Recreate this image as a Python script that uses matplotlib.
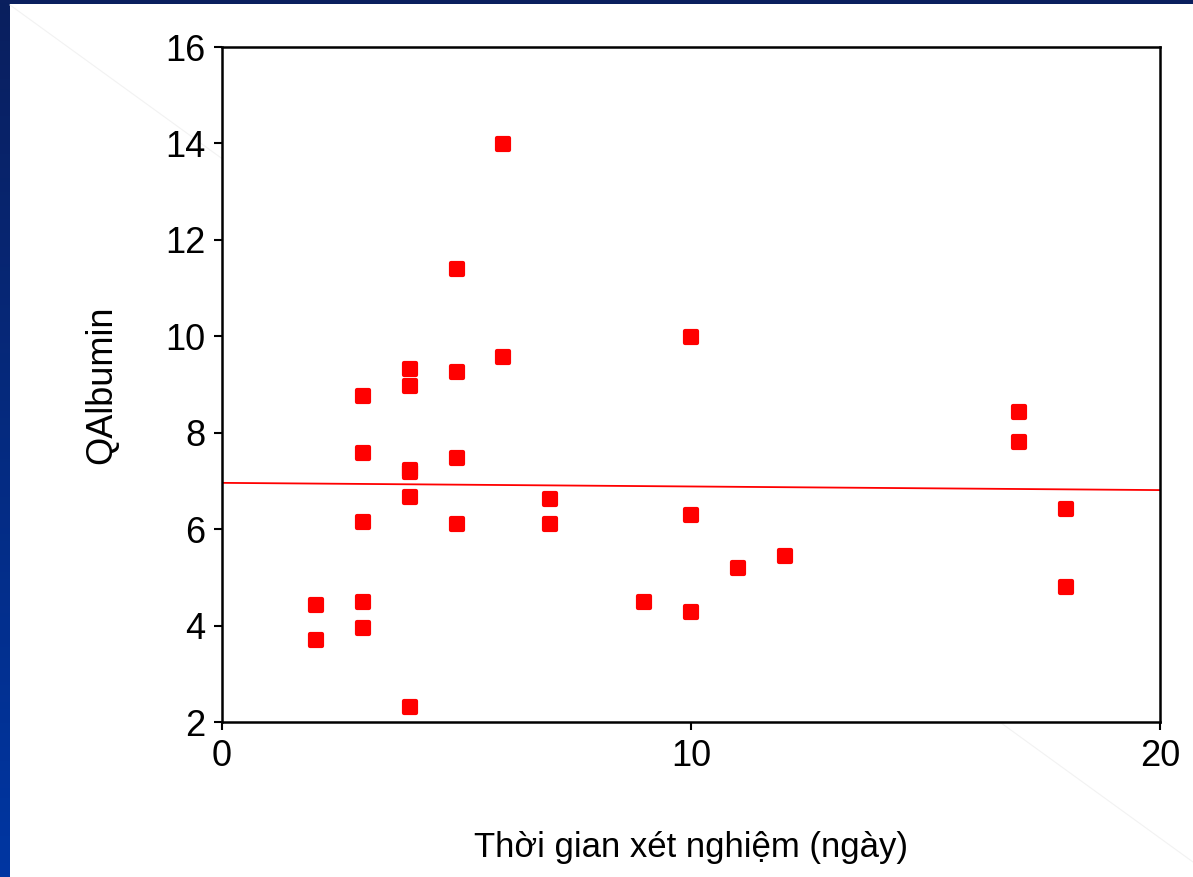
import numpy as np
import matplotlib
matplotlib.use("Agg")
import matplotlib.pyplot as plt
from matplotlib.markers import MarkerStyle
from matplotlib.patches import Rectangle
from matplotlib.lines import Line2D

# days since admission vs QAlbumin
days = [2, 2,
        3, 3, 3, 3, 3,
        4, 4, 4, 4, 4, 4,
        5, 5, 5, 5,
        6, 6,
        7, 7,
        9,
        10, 10, 10,
        11,
        12,
        17, 17,
        18, 18]
qalb = [4.42, 3.71,
        8.77, 7.58, 6.15, 4.48, 3.96,
        9.33, 8.96, 7.23, 7.19, 6.67, 2.31,
        11.40, 9.25, 7.48, 6.10,
        13.98, 9.58,
        6.63, 6.10,
        4.48,
        9.98, 6.29, 4.29,
        5.19,
        5.44,
        8.44, 7.81,
        6.42, 4.81]

# fitted line
fit_intercept = 6.96
fit_slope = -0.0075

x_ticks = [0, 10, 20]
y_ticks = [2, 4, 6, 8, 10, 12, 14, 16]

plt.rcParams['font.family'] = ['Liberation Sans', 'DejaVu Sans']

fig = plt.figure(figsize=(11.93, 8.77), dpi=100)

# slide background: blue gradient frame with white body
bg = fig.add_axes([0, 0, 1, 1], zorder=-10)
grad = np.linspace(0, 1, 256).reshape(-1, 1)
cmap = matplotlib.colors.LinearSegmentedColormap.from_list("slide", ["#0a1f5e", "#0036a2"])
bg.imshow(grad, aspect="auto", cmap=cmap, extent=[0, 1, 0, 1], origin="upper")
bg.add_patch(Rectangle((10 / 1193, 0), 1, 1 - 4 / 877, facecolor="white", edgecolor="none"))
bg.add_line(Line2D([10 / 1193, 1], [1 - 5 / 877, 1 - 862 / 877], color="#f2f2f2", lw=0.8))
bg.set_xlim(0, 1)
bg.set_ylim(0, 1)
bg.axis("off")

ax = fig.add_axes([222 / 1193, 1 - 722 / 877, 938 / 1193, 675 / 877])
ax.set_facecolor("white")

mk = MarkerStyle("s", joinstyle="round")
ax.plot(days, qalb, linestyle="none", marker=mk, markersize=8.5, markerfacecolor="#ff0000",
        markeredgecolor="#ff0000", markeredgewidth=3, zorder=3)

xs = np.array([0, 20])
ax.plot(xs, fit_intercept + fit_slope * xs, color="#ff0000", lw=1.3, zorder=2)

ax.set_xlim(0, 20)
ax.set_ylim(2, 16)
ax.set_xticks(x_ticks)
ax.set_yticks(y_ticks)
ax.tick_params(axis="both", direction="out", length=6, width=1.5, labelsize=26, pad=6, colors="black")
for s in ax.spines.values():
    s.set_linewidth(1.8)
    s.set_color("black")

ax.set_ylabel("QAlbumin", fontsize=26, labelpad=33)
ax.set_xlabel("Thời gian xét nghiệm (ngày)", fontsize=25, labelpad=41)

fig.savefig("out.png", dpi=100)
